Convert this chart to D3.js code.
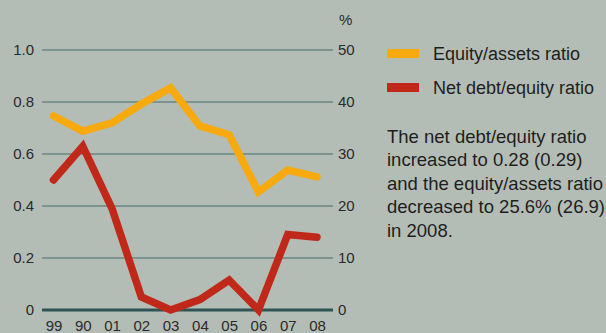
<!DOCTYPE html>
<html>
<head>
<meta charset="utf-8">
<script src="https://cdn.jsdelivr.net/npm/d3@7"></script>
<style>
  html, body { margin: 0; padding: 0; background: #b4bdb5; }
  svg { display: block; font-family: "Liberation Sans", Arial, sans-serif; }
</style>
</head>
<body>
<svg id="chart" width="606" height="333"></svg>
<script>
// Years on the x axis
const years = ["99", "90", "01", "02", "03", "04", "05", "06", "07", "08"];
// Equity/assets ratio, % (right axis)
const equityAssets = [37.3, 34.4, 36.0, 39.6, 42.7, 35.4, 33.7, 22.7, 26.9, 25.6];
// Net debt/equity ratio (left axis)
const netDebtEquity = [0.50, 0.63, 0.39, 0.05, 0.0, 0.04, 0.115, 0.0, 0.29, 0.28];
// Axis ticks
const leftTicks = [0, 0.2, 0.4, 0.6, 0.8, 1.0];
const rightTicks = [0, 10, 20, 30, 40, 50];

const legendItems = [
  { label: "Equity/assets ratio", color: "#f7aa0e" },
  { label: "Net debt/equity ratio", color: "#c0291a" }
];
const noteLines = [
  "The net debt/equity ratio",
  "increased to 0.28 (0.29)",
  "and the equity/assets ratio",
  "decreased to 25.6% (26.9)",
  "in 2008."
];

const svg = d3.select("#chart");
const plot = { left: 42, right: 333, top: 50, bottom: 310 };

const x = d3.scalePoint().domain(years).range([53.5, 317]);
const yLeft = d3.scaleLinear().domain([0, 1]).range([plot.bottom, plot.top]);
const yRight = d3.scaleLinear().domain([0, 50]).range([plot.bottom, plot.top]);

// Grid lines
svg.append("g").selectAll("line")
  .data(leftTicks.filter(d => d > 0))
  .join("line")
  .attr("x1", plot.left).attr("x2", plot.right)
  .attr("y1", d => yLeft(d)).attr("y2", d => yLeft(d))
  .attr("stroke", "#466a68").attr("stroke-width", 1.2);

// Left axis labels
const leftAxis = d3.axisLeft(yLeft).tickValues(leftTicks)
  .tickFormat(d => d === 0 ? "0" : d3.format(".1f")(d))
  .tickSize(0).tickPadding(8);
const gL = svg.append("g").attr("transform", `translate(${plot.left},0)`).call(leftAxis);
gL.select(".domain").remove();
gL.selectAll("text").attr("font-size", 15).attr("fill", "#2a2a2a")
  .attr("font-family", "Liberation Sans, Arial, sans-serif");

// Right axis labels
const rightAxis = d3.axisRight(yRight).tickValues(rightTicks)
  .tickSize(0).tickPadding(5);
const gR = svg.append("g").attr("transform", `translate(${plot.right},0)`).call(rightAxis);
gR.select(".domain").remove();
gR.selectAll("text").attr("font-size", 15).attr("fill", "#2a2a2a")
  .attr("font-family", "Liberation Sans, Arial, sans-serif");

svg.append("text").attr("x", 339).attr("y", 25)
  .attr("font-size", 15).attr("fill", "#2a2a2a").text("%");

// Bottom axis labels
const bottomAxis = d3.axisBottom(x).tickSize(0).tickPadding(10);
const gB = svg.append("g").attr("transform", `translate(0,${plot.bottom})`).call(bottomAxis);
gB.select(".domain").remove();
gB.selectAll("text").attr("font-size", 15).attr("fill", "#2a2a2a")
  .attr("font-family", "Liberation Sans, Arial, sans-serif");

// Series lines
const lineEq = d3.line().x((d, i) => x(years[i])).y(d => yRight(d));
const lineNd = d3.line().x((d, i) => x(years[i])).y(d => yLeft(d));

svg.append("path").datum(equityAssets)
  .attr("d", lineEq).attr("fill", "none")
  .attr("stroke", legendItems[0].color).attr("stroke-width", 7.5)
  .attr("stroke-linejoin", "miter").attr("stroke-linecap", "round");

// Zero baseline
svg.append("line")
  .attr("x1", plot.left).attr("x2", plot.right)
  .attr("y1", yLeft(0)).attr("y2", yLeft(0))
  .attr("stroke", "#2e5456").attr("stroke-width", 3);

svg.append("path").datum(netDebtEquity)
  .attr("d", lineNd).attr("fill", "none")
  .attr("stroke", legendItems[1].color).attr("stroke-width", 7.5)
  .attr("stroke-linejoin", "miter").attr("stroke-linecap", "round");

// Legend
const lg = svg.append("g").selectAll("g").data(legendItems).join("g")
  .attr("transform", (d, i) => `translate(387,${53.5 + i * 34})`);
lg.append("rect").attr("x", 0).attr("y", -4.5).attr("width", 32).attr("height", 9)
  .attr("fill", d => d.color);
lg.append("text").attr("x", 46).attr("y", 6.5)
  .attr("font-size", 18).attr("fill", "#1e1e1e").text(d => d.label);

// Note text
svg.append("text").attr("font-size", 18.5).attr("fill", "#1e1e1e")
  .selectAll("tspan").data(noteLines).join("tspan")
  .attr("x", 387).attr("y", (d, i) => 142.5 + i * 23.5).text(d => d);
</script>
</body>
</html>
